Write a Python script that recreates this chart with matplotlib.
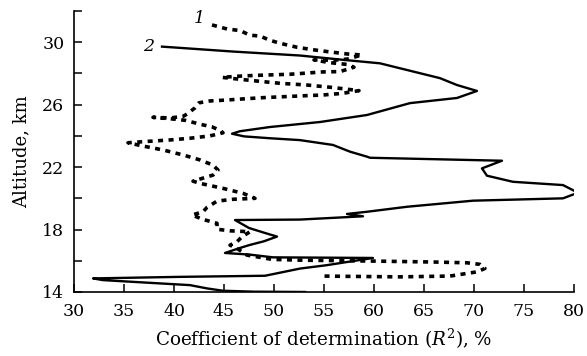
import matplotlib
matplotlib.use("Agg")
import matplotlib.pyplot as plt

plt.rcParams['font.family'] = ['DejaVu Serif']
plt.rcParams['mathtext.fontset'] = 'dejavuserif'

# Profile 1 (dotted): coefficient of determination, % vs altitude, km
r2_curve1 = [43.8, 45.3, 46.6, 47.6, 48.6, 49.5, 50.5, 52.3, 53.9, 55.6, 57.3, 58.8,
             57.3, 55.8, 54.0, 55.5, 57.3, 58.0, 56.6, 54.9, 51.6, 48.3, 46.3, 44.8,
             47.9, 50.6, 53.3, 55.9, 58.5, 56.9, 54.9, 53.3, 50.9, 48.9, 46.9, 45.3,
             43.6, 42.5, 42.1, 41.3, 40.9, 39.6, 37.9, 39.6, 41.1, 42.8, 43.8, 44.6,
             44.9, 43.6, 41.6, 39.6, 36.9, 35.4, 36.9, 38.9, 40.9, 42.6, 43.9, 44.4,
             43.9, 41.9, 42.6, 44.9, 46.9, 48.1, 45.9, 44.3, 43.3, 42.9, 41.8, 42.9,
             44.3, 44.3, 45.6, 47.6, 46.8, 46.3, 45.6, 46.3, 47.3, 48.6, 49.8, 52.6,
             60.0, 66.0, 69.3, 70.6, 71.1, 70.3, 67.6, 62.6, 57.6, 54.8]
alt_curve1 = [31.11, 30.85, 30.75, 30.45, 30.40, 30.15, 29.95, 29.68, 29.52, 29.38, 29.25, 29.18,
              28.92, 28.85, 28.87, 28.70, 28.58, 28.40, 28.12, 28.10, 27.95, 27.88, 27.82, 27.75,
              27.54, 27.37, 27.26, 27.10, 26.90, 26.73, 26.62, 26.58, 26.51, 26.45, 26.37, 26.30,
              26.24, 26.12, 25.80, 25.40, 25.25, 25.15, 25.19, 25.10, 25.00, 24.72, 24.58, 24.35,
              24.20, 24.00, 23.85, 23.74, 23.63, 23.56, 23.35, 23.10, 22.78, 22.46, 22.13, 21.81,
              21.49, 21.10, 20.96, 20.64, 20.32, 20.00, 19.94, 19.82, 19.42, 19.14, 18.93, 18.65,
              18.40, 18.02, 17.92, 17.86, 17.54, 17.22, 17.00, 16.79, 16.36, 16.22, 16.09, 16.04,
              15.98, 15.92, 15.87, 15.77, 15.51, 15.29, 15.02, 14.97, 15.00, 15.02]

# Profile 2 (solid)
r2_curve2 = [38.8, 46.0, 52.6, 56.5, 60.6, 66.6, 68.3, 70.3, 68.3, 63.6, 59.3, 54.6,
             49.6, 46.6, 45.8, 47.0, 49.6, 52.6, 55.9, 57.6, 59.3, 59.6, 72.8, 70.8,
             71.3, 73.9, 78.9, 80.4, 78.9, 69.9, 63.3, 59.3, 57.3, 58.9, 52.6, 46.1,
             47.5, 49.0, 50.3, 49.0, 47.5, 46.5, 45.1, 47.5, 49.9, 59.9, 55.3, 52.6,
             49.1, 40.6, 31.9, 32.9, 38.6, 41.6, 43.3, 44.9, 48.0, 53.1]
alt_curve2 = [29.72, 29.40, 29.15, 28.90, 28.65, 27.70, 27.26, 26.88, 26.43, 26.10, 25.34, 24.89,
              24.57, 24.30, 24.14, 23.97, 23.85, 23.73, 23.42, 22.99, 22.67, 22.60, 22.41, 21.92,
              21.45, 21.06, 20.85, 20.36, 20.00, 19.85, 19.46, 19.14, 19.00, 18.85, 18.64, 18.61,
              18.10, 17.80, 17.55, 17.25, 17.00, 16.80, 16.50, 16.40, 16.22, 16.18, 15.72, 15.50,
              15.04, 14.97, 14.87, 14.76, 14.55, 14.44, 14.23, 14.08, 14.02, 14.00]

x_ticks = [30, 35, 40, 45, 50, 55, 60, 65, 70, 75, 80]
y_major = [14, 18, 22, 26, 30]
y_minor = [16, 20, 24, 28, 32]

fig = plt.figure(figsize=(5.87, 3.56), dpi=100)
ax = fig.add_axes([0.1261, 0.1798, 0.8517, 0.7892])

ax.plot(r2_curve2, alt_curve2, color='black', lw=1.7, solid_joinstyle='round')
ax.plot(r2_curve1, alt_curve1, color='black', lw=2.6, linestyle=(0, (1.4, 1.5)),
        dash_capstyle='butt')

ax.text(42.5, 31.5, '1', fontsize=12.5, style='italic', ha='center', va='center')
ax.text(37.5, 29.75, '2', fontsize=12.5, style='italic', ha='center', va='center')

ax.set_xlim(30, 80)
ax.set_ylim(14, 32)
ax.set_xticks(x_ticks)
ax.set_yticks(y_major)
ax.set_yticks(y_minor, minor=True)
ax.tick_params(axis='both', which='both', direction='in', length=6, width=1.1,
               labelsize=12.5, colors='black')
ax.tick_params(axis='x', which='both', pad=8)
ax.tick_params(axis='y', which='both', pad=7)
ax.tick_params(axis='y', which='minor', labelleft=False)

for side in ('top', 'right'):
    ax.spines[side].set_visible(False)
for side in ('left', 'bottom'):
    ax.spines[side].set_linewidth(1.2)

ax.set_xlabel(r'Coefficient of determination ($R^2$), %', fontsize=13.2, labelpad=5)
ax.set_ylabel('Altitude, km', fontsize=13, labelpad=8)

fig.savefig('out.png', dpi=100)
